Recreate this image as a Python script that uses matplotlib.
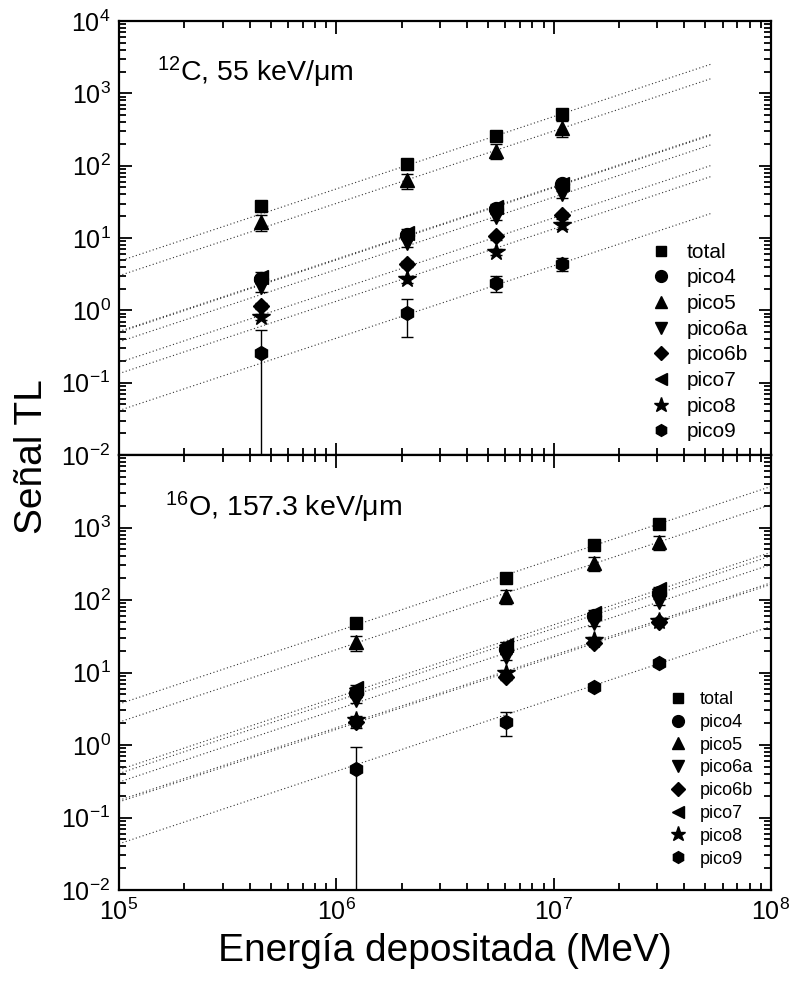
import numpy as np
import matplotlib
matplotlib.use('Agg')
import matplotlib.pyplot as plt
from matplotlib.ticker import LogLocator, NullFormatter

plt.rcParams['font.family'] = ['Liberation Sans', 'DejaVu Sans']
plt.rcParams['mathtext.fontset'] = 'custom'
plt.rcParams['mathtext.rm'] = 'Liberation Sans'
plt.rcParams['mathtext.it'] = 'Liberation Sans:italic'
plt.rcParams['mathtext.bf'] = 'Liberation Sans:bold'

series = ['total', 'pico4', 'pico5', 'pico6a', 'pico6b', 'pico7', 'pico8', 'pico9']
markers = ['s', 'o', '^', 'v', 'D', '<', '*', 'h']

# 12C, 55 keV/um
E_C = [4.5e5, 2.11e6, 5.43e6, 1.09e7]
C_total = [28, 105, 257, 520]
C_pico4 = [2.7, 11, 25, 55]
C_pico5 = [16.7, 63, 160, 330]
C_pico6a = [2.1, 8.6, 19.5, 40]
C_pico6b = [1.16, 4.4, 10.5, 20.5]
C_pico7 = [2.9, 11.8, 27, 56]
C_pico8 = [0.81, 2.7, 6.4, 15]
C_pico9 = [0.26, 0.93, 2.4, 4.4]
C_total_err = [2.5, 10, 25, 50]
C_pico4_err = [0.3, 1, 2.5, 5]
C_pico5_err = [4, 15, 38, 80]
C_pico6a_err = [0.3, 1, 2, 4]
C_pico6b_err = [0.1, 0.4, 1, 2]
C_pico7_err = [0.5, 1.5, 3, 6]
C_pico8_err = [0.08, 0.3, 0.6, 1.5]
C_pico9_err = [0.27, 0.5, 0.6, 0.9]

# 16O, 157.3 keV/um
E_O = [1.23e6, 6.04e6, 1.53e7, 3.05e7]
O_total = [48, 200, 575, 1120]
O_pico4 = [5.2, 21, 60, 125]
O_pico5 = [26, 113, 323, 630]
O_pico6a = [4.2, 16.4, 48, 94]
O_pico6b = [2.1, 8.7, 25.7, 50]
O_pico7 = [6.1, 24, 66, 141]
O_pico8 = [2.2, 10, 28, 52]
O_pico9 = [0.47, 2.1, 6.3, 13.5]
O_total_err = [4, 15, 40, 80]
O_pico4_err = [0.5, 2, 5, 10]
O_pico5_err = [6, 25, 70, 140]
O_pico6a_err = [0.4, 1.5, 4, 8]
O_pico6b_err = [0.4, 0.8, 2, 4]
O_pico7_err = [0.6, 2, 6, 12]
O_pico8_err = [0.2, 1, 2.5, 5]
O_pico9_err = [0.48, 0.75, 0.6, 1.2]

C_vals = [C_total, C_pico4, C_pico5, C_pico6a, C_pico6b, C_pico7, C_pico8, C_pico9]
C_errs = [C_total_err, C_pico4_err, C_pico5_err, C_pico6a_err, C_pico6b_err,
          C_pico7_err, C_pico8_err, C_pico9_err]
O_vals = [O_total, O_pico4, O_pico5, O_pico6a, O_pico6b, O_pico7, O_pico8, O_pico9]
O_errs = [O_total_err, O_pico4_err, O_pico5_err, O_pico6a_err, O_pico6b_err,
          O_pico7_err, O_pico8_err, O_pico9_err]

fig = plt.figure(figsize=(7.93, 9.92), dpi=100)
ax1 = fig.add_axes([0.150, 0.5413, 0.822, 0.4375])
ax2 = fig.add_axes([0.150, 0.1028, 0.822, 0.4385])


def draw(ax, E, vals, errs, xmax, label, labx, legsize, leganchor):
    E = np.array(E, dtype=float)
    xf = np.logspace(5, np.log10(xmax), 50)
    for name, m, y, e in zip(series, markers, vals, errs):
        y = np.array(y, dtype=float)
        # linear fit through origin
        a = np.sum(E * y) / np.sum(E * E)
        ax.plot(xf, a * xf, color='#333333', lw=0.8, ls=(0, (1, 2.2)))
        ms = 10
        if m == '*':
            ms = 13
        if m == 's':
            ms = 9
        if m == 'D':
            ms = 8
        ax.errorbar(E, y, yerr=e, fmt=m, color='k', ms=ms, elinewidth=1,
                    capsize=4, capthick=1, label=name)
    ax.set_xscale('log')
    ax.set_yscale('log')
    ax.set_xlim(1e5, 1e8)
    ax.set_ylim(1e-2, 1e4)
    ax.xaxis.set_major_locator(LogLocator(base=10, numticks=10))
    ax.xaxis.set_minor_locator(LogLocator(base=10, subs=np.arange(2, 10), numticks=10))
    ax.yaxis.set_major_locator(LogLocator(base=10, numticks=10))
    ax.yaxis.set_minor_locator(LogLocator(base=10, subs=np.arange(2, 10), numticks=10))
    ax.xaxis.set_minor_formatter(NullFormatter())
    ax.yaxis.set_minor_formatter(NullFormatter())
    ax.tick_params(which='both', direction='in', top=True, right=True, width=1.3)
    ax.tick_params(which='major', length=9, labelsize=18, pad=6)
    ax.tick_params(which='minor', length=5)
    for s in ax.spines.values():
        s.set_linewidth(1.6)
    ax.text(labx, 0.86, label, transform=ax.transAxes, fontsize=20.5)
    h, l = ax.get_legend_handles_labels()
    h = [hh[0] for hh in h]
    ax.legend(h, l, loc='upper left', bbox_to_anchor=leganchor, frameon=False,
              fontsize=legsize, handlelength=1.0, handletextpad=0.7,
              labelspacing=0.32, borderpad=0, markerscale=0.85)


draw(ax1, E_C, C_vals, C_errs, 5.4e7, r'$^{12}$C, 55 keV/μm', 0.058, 15, (0.80, 0.513))
draw(ax2, E_O, O_vals, O_errs, 1e8, r'$^{16}$O, 157.3 keV/μm', 0.07, 13, (0.83, 0.478))

ax1.tick_params(labelbottom=False)
ax2.set_yticks([1e-2, 1e-1, 1e0, 1e1, 1e2, 1e3])

ax2.set_xlabel('Energía depositada (MeV)', fontsize=28, labelpad=6)
fig.text(0.040, 0.54, 'Señal TL', rotation=90, fontsize=28, ha='center', va='center')

fig.savefig('out.png', dpi=100)
